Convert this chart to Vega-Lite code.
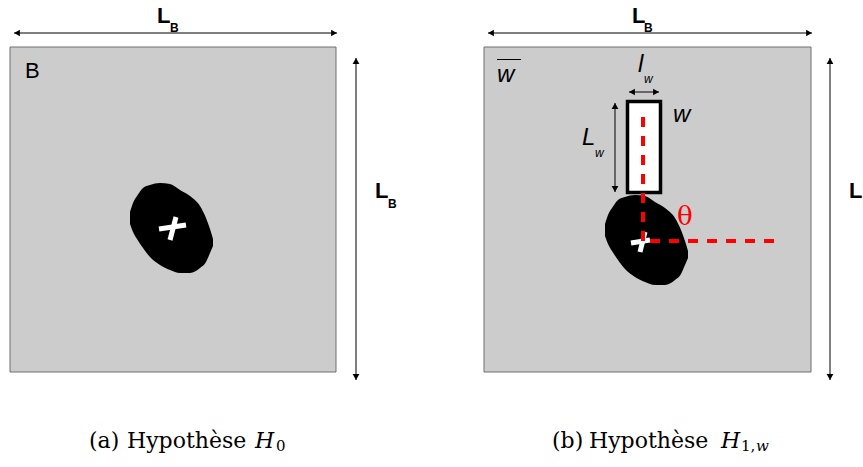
{
  "$schema": "https://vega.github.io/schema/vega-lite/v6.json",
  "width": 863,
  "height": 467,
  "padding": 0,
  "autosize": {"type": "fit", "contains": "padding"},
  "background": "white",
  "config": {"view": {"stroke": null}},
  "datasets": {
    "boxes": [{"x": 10, "x2": 336, "y": 47, "y2": 372}, {"x": 484, "x2": 811, "y": 47, "y2": 372}],
    "wrect": [{"x": 627.5, "x2": 660.5, "y": 101.5, "y2": 192.5}],
    "blobs": [
      {"blob": "a", "x": 130, "y": 212, "y2": 224},
      {"blob": "a", "x": 133, "y": 203, "y2": 232},
      {"blob": "a", "x": 137, "y": 196, "y2": 239},
      {"blob": "a", "x": 143, "y": 188, "y2": 248},
      {"blob": "a", "x": 150, "y": 185, "y2": 257},
      {"blob": "a", "x": 160, "y": 183, "y2": 265},
      {"blob": "a", "x": 170, "y": 184, "y2": 270},
      {"blob": "a", "x": 180, "y": 190, "y2": 273},
      {"blob": "a", "x": 190, "y": 196, "y2": 273},
      {"blob": "a", "x": 200, "y": 206, "y2": 268},
      {"blob": "a", "x": 206, "y": 218, "y2": 262},
      {"blob": "a", "x": 210, "y": 229, "y2": 253},
      {"blob": "a", "x": 213, "y": 239, "y2": 246},
      {"blob": "b", "x": 605, "y": 224, "y2": 236},
      {"blob": "b", "x": 608, "y": 215, "y2": 244},
      {"blob": "b", "x": 612, "y": 208, "y2": 251},
      {"blob": "b", "x": 618, "y": 200, "y2": 260},
      {"blob": "b", "x": 625, "y": 197, "y2": 269},
      {"blob": "b", "x": 635, "y": 195, "y2": 277},
      {"blob": "b", "x": 645, "y": 196, "y2": 282},
      {"blob": "b", "x": 655, "y": 202, "y2": 285},
      {"blob": "b", "x": 665, "y": 208, "y2": 285},
      {"blob": "b", "x": 675, "y": 218, "y2": 280},
      {"blob": "b", "x": 681, "y": 230, "y2": 274},
      {"blob": "b", "x": 685, "y": 241, "y2": 265},
      {"blob": "b", "x": 688, "y": 251, "y2": 258}
    ],
    "crosses": [
      {"x": 159, "y": 229, "x2": 186, "y2": 225},
      {"x": 176, "y": 217, "x2": 170, "y2": 240},
      {"x": 631, "y": 243, "x2": 650, "y2": 240},
      {"x": 645, "y": 232, "x2": 640, "y2": 252}
    ],
    "lines": [
      {"x": 14, "y": 33, "x2": 337, "y2": 33},
      {"x": 356, "y": 58, "x2": 356, "y2": 380},
      {"x": 488, "y": 33, "x2": 812, "y2": 33},
      {"x": 830, "y": 58, "x2": 830, "y2": 380},
      {"x": 629, "y": 92, "x2": 659, "y2": 92},
      {"x": 615, "y": 103, "x2": 615, "y2": 192},
      {"x": 497, "y": 59.5, "x2": 521, "y2": 59.5}
    ],
    "heads": [
      {"x": 17, "y": 33, "dir": "left"},
      {"x": 334, "y": 33, "dir": "right"},
      {"x": 356, "y": 61, "dir": "up"},
      {"x": 356, "y": 377, "dir": "down"},
      {"x": 491, "y": 33, "dir": "left"},
      {"x": 809, "y": 33, "dir": "right"},
      {"x": 830, "y": 61, "dir": "up"},
      {"x": 830, "y": 377, "dir": "down"},
      {"x": 632, "y": 92, "dir": "left"},
      {"x": 656, "y": 92, "dir": "right"},
      {"x": 615, "y": 106, "dir": "up"},
      {"x": 615, "y": 189, "dir": "down"}
    ],
    "dashes": [
      {"x": 643, "y": 117, "x2": 643, "y2": 243},
      {"x": 650, "y": 241, "x2": 776, "y2": 241}
    ],
    "bigL": [
      {"x": 157, "y": 23, "t": "L"},
      {"x": 632, "y": 23, "t": "L"},
      {"x": 375, "y": 198, "t": "L"},
      {"x": 849, "y": 198, "t": "L"}
    ],
    "smallB": [
      {"x": 170, "y": 32, "t": "B"},
      {"x": 644, "y": 32, "t": "B"},
      {"x": 388, "y": 208, "t": "B"}
    ],
    "plainSans": [{"x": 25, "y": 78, "t": "B"}],
    "italicSans": [
      {"x": 497, "y": 82, "t": "w"},
      {"x": 638, "y": 72, "t": "l"},
      {"x": 582, "y": 145, "t": "L"},
      {"x": 673, "y": 122, "t": "w"}
    ],
    "italicSub": [
      {"x": 644, "y": 83, "t": "w"},
      {"x": 595, "y": 157, "t": "w"}
    ],
    "theta": [{"x": 677, "y": 225, "t": "θ"}],
    "capPlain": [
      {"x": 89, "y": 448, "t": "(a)"},
      {"x": 127, "y": 448, "t": "Hypothèse"},
      {"x": 552, "y": 448, "t": "(b)"},
      {"x": 589, "y": 448, "t": "Hypothèse"}
    ],
    "capItalic": [
      {"x": 255, "y": 448, "t": "H"},
      {"x": 721, "y": 448, "t": "H"}
    ],
    "capSub": [
      {"x": 276, "y": 451, "t": "0"},
      {"x": 741, "y": 451, "t": "1,"}
    ],
    "capSubItalic": [
      {"x": 756, "y": 451, "t": "w"}
    ]
  },
  "encoding": {
    "x": {"field": "x", "type": "quantitative", "scale": {"domain": [0, 863], "nice": false, "zero": false}, "axis": null},
    "y": {"field": "y", "type": "quantitative", "scale": {"domain": [0, 467], "reverse": true, "nice": false, "zero": false}, "axis": null}
  },
  "layer": [
    {
      "data": {"name": "boxes"},
      "mark": {"type": "rect", "fill": "#cccccc", "stroke": "#6e6e6e", "strokeWidth": 1},
      "encoding": {"x2": {"field": "x2"}, "y2": {"field": "y2"}}
    },
    {
      "data": {"name": "blobs"},
      "mark": {"type": "area", "orient": "vertical", "color": "black", "interpolate": "monotone", "opacity": 1},
      "encoding": {"y2": {"field": "y2"}, "detail": {"field": "blob"}}
    },
    {
      "data": {"name": "wrect"},
      "mark": {"type": "rect", "fill": "white", "stroke": "black", "strokeWidth": 3.5},
      "encoding": {"x2": {"field": "x2"}, "y2": {"field": "y2"}}
    },
    {
      "data": {"name": "crosses"},
      "mark": {"type": "rule", "color": "white", "strokeWidth": 5},
      "encoding": {"x2": {"field": "x2"}, "y2": {"field": "y2"}}
    },
    {
      "data": {"name": "lines"},
      "mark": {"type": "rule", "color": "black", "strokeWidth": 1},
      "encoding": {"x2": {"field": "x2"}, "y2": {"field": "y2"}}
    },
    {
      "data": {"name": "heads"},
      "mark": {"type": "point", "filled": true, "color": "black", "opacity": 1, "size": 45},
      "encoding": {
        "shape": {"field": "dir", "type": "nominal", "legend": null,
          "scale": {"domain": ["left", "right", "up", "down"], "range": ["triangle-left", "triangle-right", "triangle-up", "triangle-down"]}}
      }
    },
    {
      "data": {"name": "dashes"},
      "mark": {"type": "rule", "color": "#ff0000", "strokeWidth": 4, "strokeDash": [10, 9]},
      "encoding": {"x2": {"field": "x2"}, "y2": {"field": "y2"}}
    },
    {
      "data": {"name": "bigL"},
      "mark": {"type": "text", "font": "Liberation Sans", "fontWeight": "bold", "fontSize": 22, "align": "left", "baseline": "alphabetic", "color": "black"},
      "encoding": {"text": {"field": "t"}}
    },
    {
      "data": {"name": "smallB"},
      "mark": {"type": "text", "font": "Liberation Sans", "fontWeight": "bold", "fontSize": 12, "align": "left", "baseline": "alphabetic", "color": "black"},
      "encoding": {"text": {"field": "t"}}
    },
    {
      "data": {"name": "plainSans"},
      "mark": {"type": "text", "font": "Liberation Sans", "fontSize": 22, "align": "left", "baseline": "alphabetic", "color": "black"},
      "encoding": {"text": {"field": "t"}}
    },
    {
      "data": {"name": "italicSans"},
      "mark": {"type": "text", "font": "Liberation Sans", "fontStyle": "italic", "fontSize": 24, "align": "left", "baseline": "alphabetic", "color": "black"},
      "encoding": {"text": {"field": "t"}}
    },
    {
      "data": {"name": "italicSub"},
      "mark": {"type": "text", "font": "Liberation Sans", "fontStyle": "italic", "fontSize": 12, "align": "left", "baseline": "alphabetic", "color": "black"},
      "encoding": {"text": {"field": "t"}}
    },
    {
      "data": {"name": "theta"},
      "mark": {"type": "text", "font": "DejaVu Serif", "fontSize": 26, "align": "left", "baseline": "alphabetic", "color": "#ff0000"},
      "encoding": {"text": {"field": "t"}}
    },
    {
      "data": {"name": "capPlain"},
      "mark": {"type": "text", "font": "DejaVu Serif", "fontSize": 22, "align": "left", "baseline": "alphabetic", "color": "black"},
      "encoding": {"text": {"field": "t"}}
    },
    {
      "data": {"name": "capItalic"},
      "mark": {"type": "text", "font": "DejaVu Serif", "fontStyle": "italic", "fontSize": 22, "align": "left", "baseline": "alphabetic", "color": "black"},
      "encoding": {"text": {"field": "t"}}
    },
    {
      "data": {"name": "capSub"},
      "mark": {"type": "text", "font": "DejaVu Serif", "fontSize": 15, "align": "left", "baseline": "alphabetic", "color": "black"},
      "encoding": {"text": {"field": "t"}}
    },
    {
      "data": {"name": "capSubItalic"},
      "mark": {"type": "text", "font": "DejaVu Serif", "fontStyle": "italic", "fontSize": 15, "align": "left", "baseline": "alphabetic", "color": "black"},
      "encoding": {"text": {"field": "t"}}
    }
  ]
}
